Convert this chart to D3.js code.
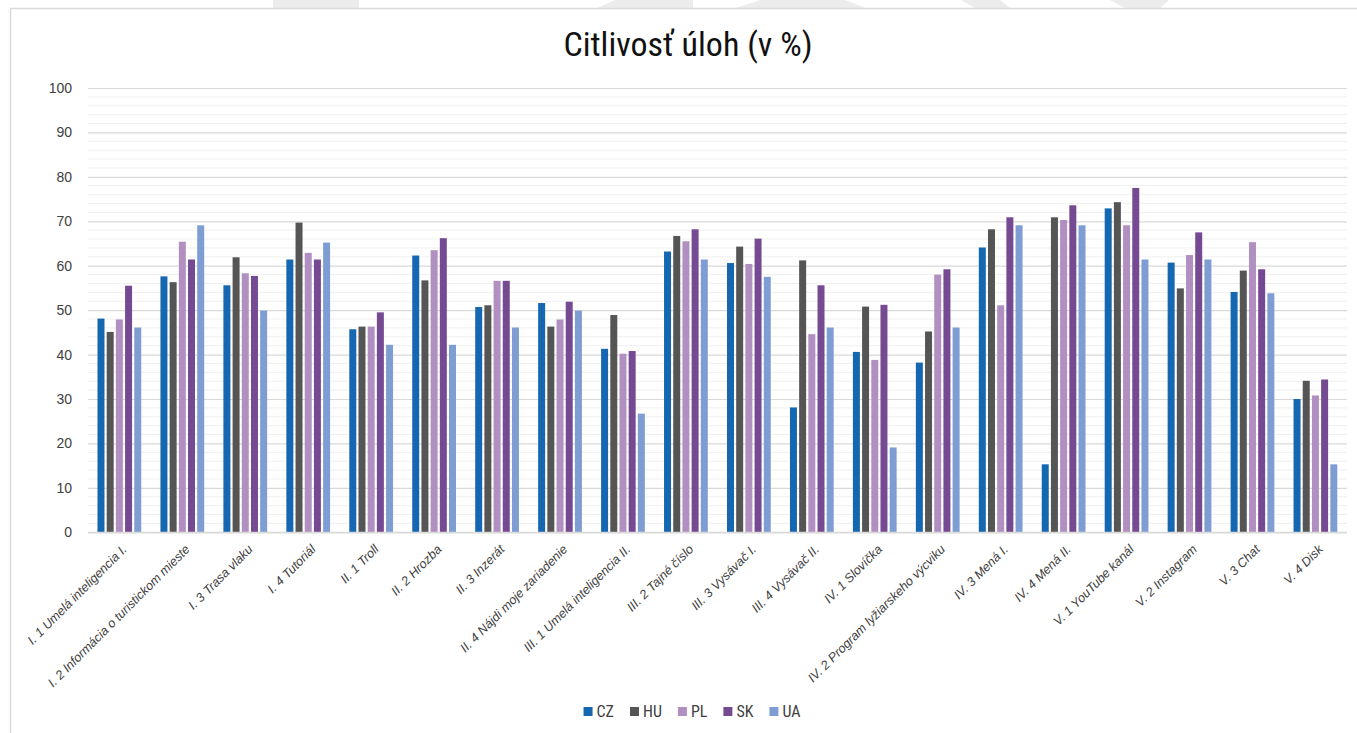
<!DOCTYPE html>
<html>
<head>
<meta charset="utf-8">
<script src="https://cdn.jsdelivr.net/npm/d3@7"></script>
<style>
  html, body { margin: 0; padding: 0; background: #fff; }
  svg { display: block; }
</style>
</head>
<body>
<div id="chart"></div>
<script>
// categories (tasks) and series (countries)
const tasks = [
  "I. 1 Umelá inteligencia I.", "I. 2 Informácia o turistickom mieste", "I. 3 Trasa vlaku",
  "I. 4 Tutoriál", "II. 1 Troll", "II. 2 Hrozba", "II. 3 Inzerát", "II. 4 Nájdi moje zariadenie",
  "III. 1 Umelá inteligencia II.", "III. 2 Tajné číslo", "III. 3 Vysávač I.", "III. 4 Vysávač II.",
  "IV. 1 Slovíčka", "IV. 2 Program lyžiarskeho výcviku", "IV. 3 Mená I.", "IV. 4 Mená II.",
  "V. 1 YouTube kanál", "V. 2 Instagram", "V. 3 Chat", "V. 4 Disk"
];
const countries = ["CZ", "HU", "PL", "SK", "UA"];
const colors = ["#1467b0", "#555555", "#b18fc1", "#764a92", "#7e9dd3"];

const CZ = [48.1, 57.6, 55.6, 61.4, 45.7, 62.3, 50.7, 51.6, 41.3, 63.2, 60.6, 28.1, 40.6, 38.2, 64.1, 15.3, 72.9, 60.7, 54.1, 30.0];
const HU = [45.1, 56.3, 61.9, 69.7, 46.3, 56.7, 51.1, 46.3, 48.9, 66.7, 64.3, 61.2, 50.8, 45.2, 68.2, 70.9, 74.3, 54.9, 58.9, 34.1];
const PL = [47.9, 65.4, 58.3, 62.9, 46.3, 63.5, 56.6, 47.9, 40.2, 65.5, 60.4, 44.6, 38.8, 58.0, 51.1, 70.3, 69.1, 62.4, 65.3, 30.8];
const SK = [55.5, 61.4, 57.7, 61.4, 49.5, 66.2, 56.6, 51.9, 40.8, 68.2, 66.1, 55.6, 51.2, 59.2, 70.9, 73.6, 77.5, 67.5, 59.2, 34.4];
const UA = [46.1, 69.1, 49.9, 65.2, 42.2, 42.2, 46.1, 49.9, 26.7, 61.4, 57.5, 46.1, 19.1, 46.1, 69.1, 69.1, 61.4, 61.4, 53.8, 15.3];
const series = [CZ, HU, PL, SK, UA];

const yTicks = [0, 10, 20, 30, 40, 50, 60, 70, 80, 90, 100];
const title = "Citlivosť úloh (v %)";

const width = 1357, height = 733;
const plot = { left: 88, right: 1347, top: 88, bottom: 532.3 };

const svg = d3.select("#chart").append("svg")
  .attr("width", width)
  .attr("height", height);

// light decorative shapes above the card
const deco = [
  [[273, 0], [359, 0], [359, 8], [273, 8]],
  [[615, 0], [693, 0], [693, 8], [597, 8]],
  [[760, 0], [845, 0], [866, 8], [736, 8]],
  [[961, 0], [1000, 0], [1010, 8], [975, 8]],
  [[1110, 0], [1169, 0], [1160, 8], [1125, 8]]
];
svg.selectAll(".deco").data(deco).join("polygon")
  .attr("points", d => d.map(p => p.join(",")).join(" "))
  .attr("fill", "#ececec");

// card
svg.append("rect")
  .attr("x", 10.5).attr("y", 8.5)
  .attr("width", width).attr("height", height)
  .attr("fill", "#fff")
  .attr("stroke", "#d9d9d9")
  .attr("stroke-width", 1.5);

const x0 = d3.scaleBand()
  .domain(tasks)
  .range([plot.left, plot.right])
  .paddingInner(0.27)
  .paddingOuter(0.135);

const x1 = d3.scaleBand()
  .domain(countries)
  .range([0, x0.bandwidth()]);

const y = d3.scaleLinear()
  .domain([0, 100])
  .range([plot.bottom, plot.top]);

// minor gridlines
svg.append("g")
  .selectAll("line")
  .data(d3.range(0, 101, 2).filter(v => v % 10 !== 0))
  .join("line")
  .attr("x1", plot.left).attr("x2", plot.right)
  .attr("y1", d => y(d)).attr("y2", d => y(d))
  .attr("stroke", "#f0f0f0")
  .attr("stroke-width", 1);

// major gridlines + labels via axis
const yAxis = svg.append("g")
  .attr("transform", `translate(${plot.left},0)`)
  .call(d3.axisLeft(y).tickValues(yTicks).tickSize(-(plot.right - plot.left)).tickPadding(16));
yAxis.select(".domain").remove();
yAxis.selectAll(".tick line")
  .attr("stroke", "#d9d9d9")
  .attr("stroke-width", 1.2);
yAxis.selectAll(".tick text")
  .attr("fill", "#404040")
  .style("font-family", "Liberation Sans, Arial, sans-serif")
  .style("font-size", "14px");

// bars
const groups = svg.append("g")
  .selectAll("g")
  .data(tasks)
  .join("g")
  .attr("transform", d => `translate(${x0(d)},0)`);

groups.selectAll("rect")
  .data((d, i) => countries.map((c, k) => ({ c, k, v: series[k][i] })))
  .join("rect")
  .attr("x", d => x1(d.c) + 1)
  .attr("width", x1.bandwidth() - 2.2)
  .attr("y", d => y(d.v))
  .attr("height", d => y(0) - y(d.v))
  .attr("fill", d => colors[d.k]);

// baseline
svg.append("line")
  .attr("x1", plot.left).attr("x2", plot.right)
  .attr("y1", y(0)).attr("y2", y(0))
  .attr("stroke", "#d9d9d9")
  .attr("stroke-width", 1.2);

// x labels, rotated
svg.append("g")
  .selectAll("text")
  .data(tasks)
  .join("text")
  .attr("transform", d => `translate(${x0(d) + x0.bandwidth() / 2 + 5},547) rotate(-45)`)
  .attr("text-anchor", "end")
  .attr("dy", "0.35em")
  .attr("fill", "#404040")
  .style("font-family", "Liberation Sans, Arial, sans-serif")
  .style("font-size", "12.6px")
  .style("font-style", "italic")
  .text(d => d);

// title
svg.append("text")
  .attr("x", 688)
  .attr("y", 56)
  .attr("text-anchor", "middle")
  .attr("fill", "#111")
  .style("font-family", "Liberation Sans Narrow, Roboto Condensed, Roboto, sans-serif")
  .style("font-size", "34px")
  .text(title);

// legend
const legend = svg.append("g");
const items = legend.selectAll("g")
  .data(countries)
  .join("g");
items.append("rect")
  .attr("width", 9).attr("height", 9)
  .attr("y", -9.5)
  .attr("fill", (d, i) => colors[i]);
items.append("text")
  .attr("x", 13)
  .attr("y", 0)
  .attr("fill", "#404040")
  .style("font-family", "Liberation Sans Narrow, Roboto Condensed, Roboto, sans-serif")
  .style("font-size", "16px")
  .text(d => d);
let off = 0;
items.each(function () {
  const w = 13 + this.querySelector("text").getComputedTextLength();
  d3.select(this).attr("transform", `translate(${off},716.5)`);
  off += w + 16;
});
legend.attr("transform", `translate(${692 - (off - 16) / 2},0)`);
</script>
</body>
</html>
